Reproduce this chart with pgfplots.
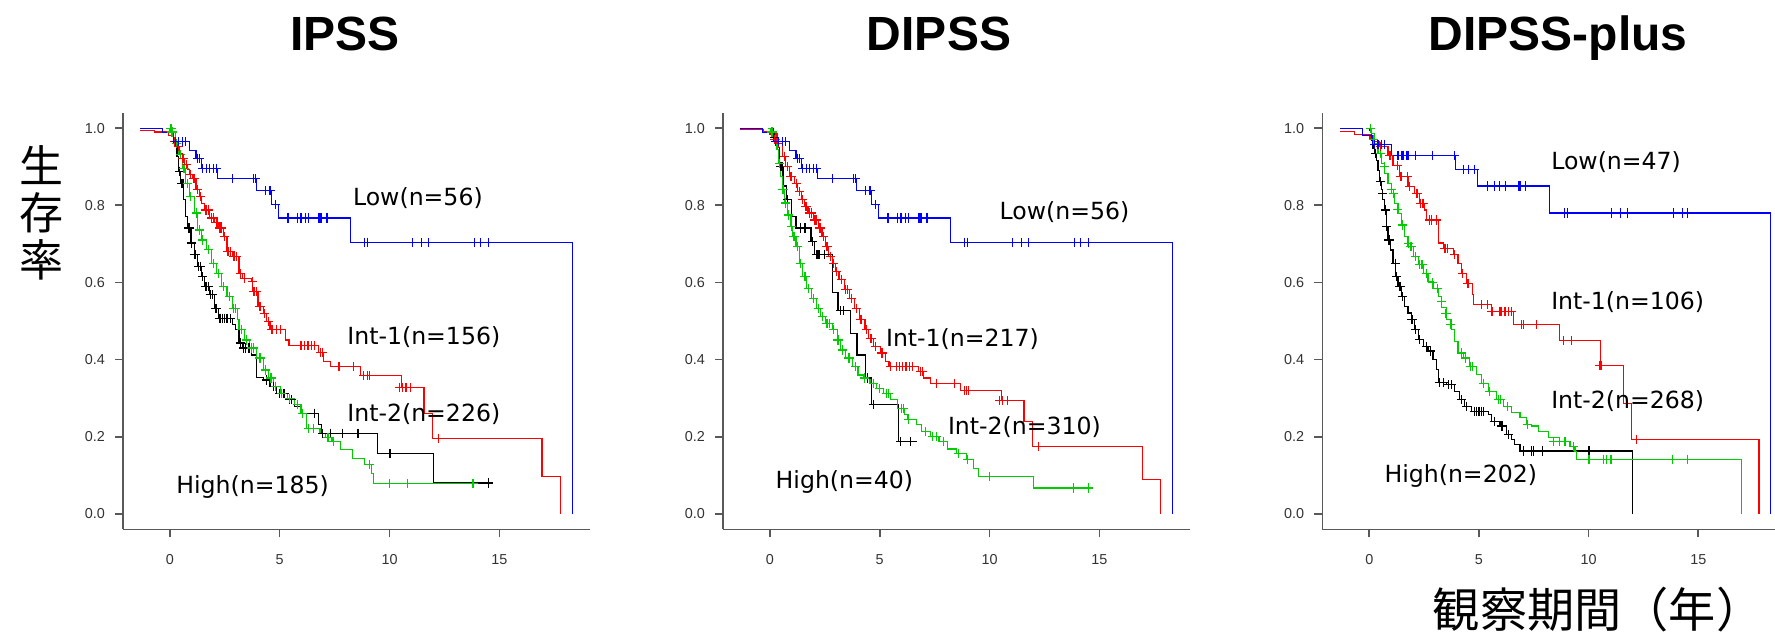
\documentclass[border=0pt]{standalone}
\usepackage{pgfplots}
\pgfplotsset{compat=1.18}
\usepackage{fontspec}
\setmainfont{DejaVu Sans}
\newfontfamily\titlefont{Liberation Sans}
\newfontfamily\tickfam{Liberation Sans}
\newfontfamily\cjk{Noto Sans CJK JP}
\definecolor{kmred}{RGB}{255,0,0}
\definecolor{kmgreen}{RGB}{0,205,0}
\definecolor{kmblue}{RGB}{0,0,255}
\tikzset{lab/.style={font=\fontsize{11.8}{13}\selectfont, anchor=base west, inner sep=0pt}}
\pgfplotsset{
  kmaxis/.style={
    scale only axis, anchor=south west,
    height=208.3pt,
    ymin=-0.04, ymax=1.04,
    axis x line*=bottom, axis y line*=left,
    axis line style={-, black!65, line width=0.8pt},
    xtick={0,5,10,15}, ytick={0,0.2,0.4,0.6,0.8,1.0},
    tick align=outside, major tick length=4pt,
    tick style={black!65, line width=0.8pt},
    ticklabel style={font=\tickfam\fontsize{7.2}{8}\selectfont, text=black!80},
    /pgf/number format/assume math mode=true,
    xticklabel style={yshift=-5pt},
    yticklabel style={xshift=-1.5pt, /pgf/number format/.cd, fixed, fixed zerofill, precision=1},
  },
  curve/.style={const plot, no marks, line width=0.6pt},
  cens/.style={only marks, mark=+, mark size=2.3pt, line width=0.6pt},
}
\begin{document}
\begin{tikzpicture}
\useasboundingbox (0,0) rectangle (887.5pt,317pt);
% titles
\node[font=\titlefont\bfseries\fontsize{24}{26}\selectfont, anchor=base] at (172.5pt,292pt) {IPSS};
\node[font=\titlefont\bfseries\fontsize{24}{26}\selectfont, anchor=base] at (469.5pt,292pt) {DIPSS};
\node[font=\titlefont\bfseries\fontsize{24}{26}\selectfont, anchor=base] at (779pt,292pt) {DIPSS-plus};
\node[font=\cjk\fontsize{22}{23.5}\selectfont, align=center] at (20.5pt,210.5pt) {生\\存\\率};
\node[font=\cjk\fontsize{23.6}{25}\selectfont] at (799pt,12pt) {観察期間（年）};

% ---------------- IPSS ----------------
\begin{axis}[kmaxis, at={(61.5pt,52.35pt)}, width=233.5pt, xmin=-2.13, xmax=19.12]
\addplot[curve, black] coordinates {(-0.15,1.0) (0.0,0.99) (0.17,0.961) (0.33,0.927) (0.41,0.888) (0.49,0.857) (0.64,0.814) (0.72,0.771) (0.8,0.741) (0.96,0.702) (1.11,0.672) (1.27,0.641) (1.43,0.615) (1.58,0.589) (1.82,0.568) (2.05,0.533) (2.21,0.507) (2.84,0.49) (2.99,0.477) (3.15,0.443) (3.31,0.43) (3.70,0.412) (3.93,0.354) (4.25,0.347) (4.56,0.33) (4.87,0.313) (5.34,0.296) (5.66,0.278) (5.97,0.261) (6.76,0.231) (6.91,0.209) (9.45,0.157) (12.01,0.08) (14.51,0.08)};
\addplot[cens, black] coordinates {(0.45,0.888) (0.55,0.857) (0.6,0.857) (0.85,0.741) (0.9,0.741) (1.0,0.702) (1.15,0.672) (1.3,0.641) (1.4,0.641) (1.5,0.615) (1.65,0.589) (1.75,0.589) (1.85,0.568) (1.95,0.568) (2.1,0.533) (2.25,0.507) (2.3,0.507) (2.4,0.507) (2.5,0.507) (2.6,0.507) (2.75,0.507) (3.2,0.443) (3.35,0.43) (3.45,0.43) (3.6,0.43) (4.4,0.347) (4.7,0.33) (5.0,0.313) (5.2,0.313) (5.45,0.296) (5.55,0.296) (6.05,0.261) (6.6,0.261) (6.95,0.209) (7.30,0.209) (7.85,0.209) (8.56,0.209) (10.02,0.157) (14.51,0.08)};
\addplot[curve, kmgreen] coordinates {(-0.1,1.0) (0.0,0.99) (0.25,0.961) (0.41,0.931) (0.56,0.896) (0.72,0.857) (0.88,0.823) (1.11,0.78) (1.27,0.736) (1.43,0.71) (1.66,0.685) (1.90,0.65) (2.13,0.624) (2.37,0.589) (2.60,0.564) (2.84,0.533) (3.07,0.503) (3.15,0.477) (3.39,0.451) (3.62,0.43) (3.93,0.404) (4.25,0.373) (4.48,0.352) (4.72,0.33) (5.03,0.313) (5.34,0.3) (5.66,0.283) (5.97,0.261) (6.21,0.222) (6.83,0.209) (7.07,0.199) (7.38,0.188) (7.77,0.166) (8.32,0.144) (8.87,0.127) (9.18,0.105) (9.26,0.078) (13.97,0.078)};
\addplot[cens, kmgreen] coordinates {(0.05,1.0) (0.1,0.99) (0.3,0.961) (0.5,0.931) (0.65,0.896) (0.8,0.857) (0.95,0.823) (1.2,0.78) (1.35,0.736) (1.5,0.71) (1.75,0.685) (2.0,0.65) (2.2,0.624) (2.45,0.589) (2.7,0.564) (2.9,0.533) (3.0,0.533) (3.25,0.477) (3.5,0.451) (3.7,0.43) (3.8,0.43) (4.1,0.404) (4.35,0.373) (4.6,0.352) (4.8,0.33) (5.1,0.313) (5.45,0.3) (5.8,0.283) (6.05,0.261) (6.3,0.222) (6.55,0.222) (7.2,0.199) (7.45,0.188) (9.1,0.127) (10.0,0.078) (10.8,0.078) (13.8,0.078)};
\addplot[curve, kmred] coordinates {(-1.36,0.994) (-0.69,0.99) (-0.05,0.98) (0.15,0.965) (0.33,0.952) (0.45,0.935) (0.56,0.922) (0.68,0.905) (0.8,0.892) (0.9,0.88) (1.03,0.87) (1.19,0.84) (1.35,0.823) (1.45,0.805) (1.58,0.788) (1.82,0.767) (2.05,0.755) (2.21,0.741) (2.45,0.719) (2.60,0.68) (2.84,0.667) (3.15,0.624) (3.31,0.611) (3.70,0.602) (3.78,0.576) (4.01,0.538) (4.25,0.52) (4.40,0.499) (4.56,0.477) (5.27,0.451) (5.42,0.436) (6.76,0.419) (6.99,0.395) (7.30,0.382) (8.68,0.359) (10.56,0.328) (11.57,0.261) (11.97,0.196) (16.94,0.097) (17.76,0)};
\addplot[cens, kmred] coordinates {(0.2,0.965) (0.4,0.952) (0.6,0.922) (0.75,0.905) (0.95,0.88) (1.1,0.87) (1.25,0.84) (1.4,0.823) (1.65,0.788) (1.75,0.788) (1.9,0.767) (2.0,0.767) (2.15,0.755) (2.25,0.741) (2.3,0.741) (2.35,0.741) (2.5,0.719) (2.65,0.68) (2.75,0.68) (2.9,0.667) (2.95,0.667) (3.05,0.667) (3.2,0.624) (3.4,0.611) (3.75,0.602) (3.8,0.576) (3.85,0.576) (3.95,0.576) (4.1,0.538) (4.3,0.52) (4.5,0.499) (4.65,0.477) (4.85,0.477) (5.05,0.477) (5.97,0.436) (6.13,0.436) (6.29,0.436) (6.44,0.436) (6.6,0.436) (6.85,0.419) (6.93,0.419) (7.7,0.382) (8.37,0.382) (8.8,0.359) (9.0,0.359) (9.1,0.359) (10.45,0.328) (10.6,0.328) (10.75,0.328) (10.95,0.328) (12.21,0.196)};
\addplot[curve, kmblue] coordinates {(-1.36,1.0) (-0.33,0.988) (0.17,0.965) (0.88,0.942) (1.19,0.922) (1.43,0.896) (2.16,0.869) (3.93,0.838) (4.64,0.803) (4.94,0.767) (8.21,0.704) (18.31,0.704) (18.31,0)};
\addplot[cens, kmblue] coordinates {(0.25,0.965) (0.41,0.965) (0.56,0.965) (0.72,0.965) (1.27,0.922) (1.35,0.922) (1.50,0.896) (1.66,0.896) (1.82,0.896) (1.97,0.896) (2.13,0.896) (2.87,0.869) (3.82,0.869) (3.90,0.869) (4.36,0.838) (4.56,0.838) (4.80,0.803) (5.38,0.767) (5.82,0.767) (5.97,0.767) (6.16,0.767) (6.32,0.767) (6.79,0.767) (6.88,0.767) (7.15,0.767) (8.87,0.704) (9.00,0.704) (11.03,0.704) (11.46,0.704) (11.77,0.704) (13.86,0.704) (14.15,0.704) (14.51,0.704)};
\node[lab] at (axis cs:8.32,0.799) {Low(n=56)};
\node[lab] at (axis cs:8.06,0.44) {Int-1(n=156)};
\node[lab] at (axis cs:8.06,0.239) {Int-2(n=226)};
\node[lab] at (axis cs:0.28,0.054) {High(n=185)};
\end{axis}

% ---------------- DIPSS ----------------
\begin{axis}[kmaxis, at={(361.5pt,52.35pt)}, width=233.5pt, xmin=-2.13, xmax=19.12]
\addplot[curve, black] coordinates {(-0.1,1.0) (0.15,0.975) (0.3,0.95) (0.45,0.9) (0.6,0.85) (0.75,0.814) (0.98,0.771) (1.19,0.741) (1.87,0.706) (2.02,0.672) (2.84,0.574) (3.10,0.527) (3.67,0.468) (3.97,0.412) (4.37,0.352) (4.64,0.283) (5.86,0.188) (6.68,0.188)};
\addplot[cens, black] coordinates {(0.2,0.975) (0.5,0.9) (0.55,0.9) (0.8,0.814) (1.4,0.741) (1.6,0.741) (1.95,0.706) (2.15,0.672) (2.2,0.672) (2.25,0.672) (2.5,0.672) (3.2,0.527) (3.35,0.527) (4.45,0.352) (4.7,0.283) (5.95,0.188) (6.4,0.188)};
\addplot[curve, kmgreen] coordinates {(-0.1,1.0) (0.05,0.99) (0.17,0.97) (0.33,0.944) (0.41,0.909) (0.49,0.875) (0.56,0.84) (0.67,0.806) (0.8,0.775) (0.96,0.745) (1.03,0.719) (1.19,0.693) (1.35,0.65) (1.50,0.615) (1.66,0.585) (1.90,0.559) (2.13,0.533) (2.29,0.512) (2.52,0.494) (2.84,0.477) (3.07,0.451) (3.23,0.425) (3.46,0.404) (3.78,0.382) (4.01,0.36) (4.25,0.352) (4.56,0.339) (4.87,0.326) (5.19,0.313) (5.49,0.296) (5.82,0.274) (6.13,0.257) (6.29,0.244) (6.68,0.231) (6.91,0.213) (7.30,0.2) (7.70,0.188) (8.09,0.168) (8.48,0.156) (8.95,0.14) (9.26,0.118) (9.50,0.097) (12.01,0.067) (14.59,0.067)};
\addplot[cens, kmgreen] coordinates {(0.1,0.99) (0.25,0.97) (0.45,0.909) (0.6,0.84) (0.7,0.806) (0.85,0.775) (1.0,0.745) (1.1,0.719) (1.25,0.693) (1.4,0.65) (1.6,0.615) (1.75,0.585) (2.0,0.559) (2.2,0.533) (2.4,0.512) (2.6,0.494) (2.7,0.494) (2.9,0.477) (3.1,0.451) (3.3,0.425) (3.6,0.404) (3.9,0.382) (4.3,0.352) (4.7,0.339) (5.0,0.326) (5.3,0.313) (5.4,0.313) (6.0,0.274) (6.1,0.274) (6.3,0.244) (7.1,0.213) (7.4,0.2) (7.6,0.2) (7.9,0.188) (8.6,0.156) (9.0,0.14) (10.0,0.097) (13.8,0.067) (14.5,0.067)};
\addplot[curve, kmred] coordinates {(-1.36,0.997) (-0.3,0.99) (0.0,0.985) (0.33,0.961) (0.56,0.927) (0.72,0.9) (0.88,0.875) (1.11,0.857) (1.27,0.836) (1.43,0.814) (1.58,0.797) (1.74,0.78) (1.97,0.762) (2.21,0.741) (2.37,0.719) (2.52,0.693) (2.68,0.667) (2.84,0.65) (2.99,0.628) (3.15,0.607) (3.39,0.581) (3.62,0.559) (3.86,0.533) (4.09,0.503) (4.33,0.477) (4.48,0.455) (4.72,0.434) (5.03,0.417) (5.27,0.395) (5.42,0.382) (6.76,0.369) (6.99,0.352) (7.30,0.339) (8.68,0.32) (10.56,0.293) (11.57,0.239) (11.97,0.175) (16.94,0.09) (17.76,0)};
\addplot[cens, kmred] coordinates {(0.2,0.97) (0.4,0.961) (0.65,0.927) (0.8,0.9) (0.95,0.875) (1.0,0.875) (1.2,0.857) (1.35,0.836) (1.5,0.814) (1.65,0.797) (1.8,0.78) (1.9,0.78) (2.05,0.762) (2.1,0.762) (2.25,0.741) (2.3,0.741) (2.45,0.719) (2.6,0.693) (2.75,0.667) (2.9,0.65) (3.05,0.628) (3.25,0.607) (3.45,0.581) (3.55,0.581) (3.7,0.559) (3.95,0.533) (4.15,0.503) (4.4,0.477) (4.6,0.455) (4.8,0.434) (5.1,0.417) (5.5,0.382) (5.75,0.382) (5.9,0.382) (6.05,0.382) (6.2,0.382) (6.35,0.382) (6.5,0.382) (6.85,0.369) (6.95,0.369) (7.6,0.339) (8.4,0.339) (8.85,0.32) (8.95,0.32) (9.05,0.32) (10.45,0.293) (10.6,0.293) (10.8,0.293) (12.21,0.175)};
\addplot[curve, kmblue] coordinates {(-1.36,1.0) (-0.33,0.988) (0.17,0.965) (0.88,0.942) (1.19,0.922) (1.43,0.896) (2.16,0.869) (3.93,0.838) (4.64,0.803) (4.94,0.767) (8.21,0.704) (18.31,0.704) (18.31,0)};
\addplot[cens, kmblue] coordinates {(0.25,0.965) (0.41,0.965) (0.56,0.965) (0.72,0.965) (1.27,0.922) (1.35,0.922) (1.50,0.896) (1.66,0.896) (1.82,0.896) (1.97,0.896) (2.13,0.896) (2.87,0.869) (3.82,0.869) (3.90,0.869) (4.36,0.838) (4.56,0.838) (4.80,0.803) (5.38,0.767) (5.82,0.767) (5.97,0.767) (6.16,0.767) (6.32,0.767) (6.79,0.767) (6.88,0.767) (7.15,0.767) (8.87,0.704) (9.00,0.704) (11.03,0.704) (11.46,0.704) (11.77,0.704) (13.86,0.704) (14.15,0.704) (14.51,0.704)};
\node[lab] at (axis cs:10.44,0.762) {Low(n=56)};
\node[lab] at (axis cs:5.27,0.434) {Int-1(n=217)};
\node[lab] at (axis cs:8.09,0.205) {Int-2(n=310)};
\node[lab] at (axis cs:0.25,0.067) {High(n=40)};
\end{axis}

% ---------------- DIPSS-plus ----------------
\begin{axis}[kmaxis, at={(661.15pt,52.35pt)}, width=226.35pt, xmin=-2.14, xmax=18.5]
\addplot[curve, black] coordinates {(-0.13,1.0) (0.02,0.995) (0.10,0.969) (0.17,0.947) (0.25,0.934) (0.32,0.917) (0.40,0.891) (0.47,0.861) (0.55,0.84) (0.60,0.814) (0.70,0.788) (0.78,0.745) (0.85,0.71) (0.96,0.684) (1.08,0.65) (1.21,0.616) (1.31,0.59) (1.46,0.564) (1.62,0.538) (1.77,0.521) (1.92,0.503) (2.08,0.478) (2.23,0.452) (2.46,0.434) (2.68,0.422) (2.91,0.4) (3.06,0.374) (3.14,0.34) (3.52,0.335) (3.90,0.318) (4.13,0.297) (4.36,0.279) (4.66,0.266) (5.42,0.258) (5.57,0.24) (5.96,0.228) (6.26,0.206) (6.49,0.193) (6.64,0.18) (6.87,0.163) (12.0,0.163) (12.0,0)};
\addplot[cens, black] coordinates {(0.3,0.934) (0.5,0.861) (0.6,0.83) (0.75,0.788) (0.8,0.745) (0.9,0.71) (1.2,0.65) (1.25,0.616) (1.4,0.59) (1.5,0.564) (1.95,0.503) (2.1,0.478) (2.3,0.452) (2.6,0.434) (2.8,0.422) (3.2,0.34) (3.4,0.34) (3.6,0.335) (3.75,0.335) (4.2,0.297) (4.45,0.279) (4.8,0.266) (4.9,0.266) (5.0,0.266) (5.1,0.266) (5.2,0.266) (5.7,0.24) (6.05,0.228) (6.35,0.206) (7.02,0.163) (7.40,0.163) (7.48,0.163) (7.90,0.163) (10.02,0.163)};
\addplot[curve, kmgreen] coordinates {(-0.1,1.0) (0.10,0.986) (0.25,0.96) (0.40,0.934) (0.55,0.909) (0.70,0.883) (0.85,0.857) (1.01,0.831) (1.16,0.805) (1.31,0.779) (1.46,0.749) (1.62,0.719) (1.77,0.693) (2.00,0.667) (2.23,0.646) (2.46,0.624) (2.68,0.603) (2.91,0.585) (3.14,0.564) (3.29,0.534) (3.52,0.503) (3.75,0.478) (3.90,0.447) (4.05,0.417) (4.28,0.404) (4.58,0.383) (4.89,0.361) (5.12,0.339) (5.42,0.318) (5.80,0.297) (6.11,0.279) (6.49,0.262) (6.87,0.249) (7.17,0.232) (7.40,0.228) (7.71,0.213) (8.16,0.199) (8.69,0.188) (9.15,0.175) (9.38,0.162) (9.45,0.142) (16.98,0.142) (16.98,0)};
\addplot[cens, kmgreen] coordinates {(0.05,1.0) (0.2,0.97) (0.5,0.934) (0.7,0.9) (1.0,0.84) (1.1,0.831) (1.3,0.79) (1.5,0.749) (1.8,0.7) (1.9,0.693) (2.1,0.667) (2.3,0.646) (2.4,0.646) (2.6,0.624) (2.9,0.6) (3.1,0.585) (3.3,0.55) (3.5,0.52) (3.7,0.49) (4.2,0.417) (4.4,0.404) (4.6,0.383) (4.7,0.383) (5.2,0.339) (5.5,0.318) (5.9,0.297) (6.0,0.297) (6.3,0.279) (7.2,0.232) (8.39,0.188) (8.69,0.188) (8.92,0.188) (9.3,0.175) (10.02,0.142) (10.67,0.142) (10.82,0.142) (11.02,0.142) (13.83,0.142) (14.51,0.142)};
\addplot[curve, kmred] coordinates {(-1.34,0.992) (-0.68,0.983) (0.03,0.974) (0.17,0.965) (0.47,0.952) (0.85,0.93) (1.08,0.904) (1.39,0.874) (1.77,0.848) (2.07,0.831) (2.30,0.805) (2.53,0.788) (2.61,0.762) (3.14,0.702) (3.37,0.689) (3.83,0.672) (4.05,0.65) (4.20,0.624) (4.43,0.598) (4.69,0.568) (4.74,0.542) (5.57,0.525) (6.57,0.49) (8.66,0.449) (10.55,0.384) (11.58,0.287) (11.96,0.192) (17.77,0.192) (17.77,0)};
\addplot[cens, kmred] coordinates {(0.5,0.952) (0.95,0.93) (1.3,0.904) (1.45,0.874) (1.75,0.874) (1.85,0.848) (2.15,0.831) (2.2,0.831) (2.35,0.805) (2.45,0.805) (2.75,0.762) (2.85,0.762) (3.05,0.762) (3.45,0.689) (3.55,0.689) (3.9,0.672) (4.25,0.624) (4.5,0.598) (5.1,0.542) (5.4,0.542) (5.6,0.525) (5.96,0.525) (6.03,0.525) (6.19,0.525) (6.34,0.525) (6.49,0.525) (6.95,0.49) (7.02,0.49) (7.63,0.49) (8.85,0.449) (9.22,0.449) (10.52,0.384) (10.59,0.384) (12.19,0.192)};
\addplot[curve, kmblue] coordinates {(-1.34,1.0) (-0.30,0.98) (0.15,0.958) (1.02,0.93) (3.95,0.893) (4.92,0.85) (8.21,0.78) (18.31,0.78) (18.31,0)};
\addplot[cens, kmblue] coordinates {(0.25,0.958) (0.4,0.958) (0.55,0.958) (0.7,0.958) (1.31,0.93) (1.46,0.93) (1.54,0.93) (1.69,0.93) (1.77,0.93) (2.12,0.93) (2.88,0.93) (3.90,0.93) (4.31,0.893) (4.54,0.893) (4.81,0.893) (5.39,0.85) (5.72,0.85) (5.95,0.85) (6.21,0.85) (6.79,0.85) (6.87,0.85) (7.14,0.85) (8.89,0.78) (9.04,0.78) (11.05,0.78) (11.47,0.78) (11.78,0.78) (13.86,0.78) (14.29,0.78) (14.51,0.78)};
\node[lab] at (axis cs:8.28,0.892) {Low(n=47)};
\node[lab] at (axis cs:8.28,0.531) {Int-1(n=106)};
\node[lab] at (axis cs:8.28,0.274) {Int-2(n=268)};
\node[lab] at (axis cs:0.68,0.081) {High(n=202)};
\end{axis}
\end{tikzpicture}
\end{document}
